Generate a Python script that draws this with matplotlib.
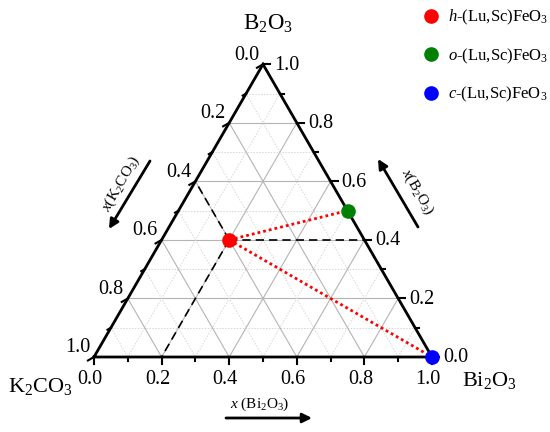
import numpy as np
import matplotlib
matplotlib.use('Agg')
import matplotlib.pyplot as plt

plt.rcParams['font.family'] = 'Liberation Serif'
plt.rcParams['mathtext.fontset'] = 'custom'
plt.rcParams['mathtext.rm'] = 'Liberation Serif'
plt.rcParams['mathtext.it'] = 'Liberation Serif:italic'

# compositions (mole fractions) of the three phases
phase_labels = [r'$h$-(Lu,Sc)FeO$_3$', r'$o$-(Lu,Sc)FeO$_3$', r'$c$-(Lu,Sc)FeO$_3$']
x_k2co3 = [0.4, 0.0, 0.0]
x_bi2o3 = [0.2, 0.5, 1.0]
x_b2o3 = [0.4, 0.5, 0.0]
phase_colors = ['#ff0000', '#008000', '#0000ff']
tick_values = [0.0, 0.2, 0.4, 0.6, 0.8, 1.0]

H = np.sqrt(3) / 2


def tern(bi, b):
    # Bi2O3 -> right vertex, B2O3 -> top vertex, K2CO3 -> left vertex
    return bi + 0.5 * b, b * H


fig = plt.figure(figsize=(5.5, 4.32), dpi=100)
ax = fig.add_axes([0, 0, 1, 1])
S = 338.0  # pixels per unit side
ax.set_xlim(-94 / S, 456 / S)
ax.set_ylim(-75 / S, 357 / S)
ax.axis('off')
px = 1 / S

# grid
for i in range(1, 10):
    v = i / 10
    if i % 2 == 0:
        kw = dict(color='#b4b4b4', lw=0.8, zorder=1)
    else:
        kw = dict(color='#d6d6d6', lw=0.7, ls=(0, (1.5, 1.5)), zorder=1)
    for p, q in [(tern(0, v), tern(1 - v, v)),
                 (tern(v, 0), tern(v, 1 - v)),
                 (tern(1 - v, 0), tern(0, 1 - v))]:
        ax.plot([p[0], q[0]], [p[1], q[1]], **kw)

# triangle frame
cx, cy = tern(np.array([0, 1, 0, 0]), np.array([0, 0, 1, 0]))
ax.plot(cx, cy, color='k', lw=2, zorder=4, solid_joinstyle='miter')

# ticks
for i in range(11):
    v = i / 10
    L = (7 if i % 2 == 0 else 4) * px
    x0, y0 = tern(v, 0)
    ax.plot([x0, x0], [y0, y0 - L], color='k', lw=1.5, zorder=4)
    x0, y0 = tern(1 - v, v)
    ax.plot([x0, x0 + L], [y0, y0], color='k', lw=1.5, zorder=4)
    x0, y0 = tern(0, 1 - v)
    ax.plot([x0, x0 - 0.866 * L], [y0, y0 - 0.5 * L], color='k', lw=1.5, zorder=4)

for v in tick_values:
    lab = f'{v:.1f}'
    ax.annotate(lab, tern(v, 0), xytext=(-4, -22), textcoords='offset pixels',
                ha='center', va='center', fontsize=14.5)
    ax.annotate(lab, tern(1 - v, v), xytext=(11, -1), textcoords='offset pixels',
                ha='left', va='center', fontsize=14.5)
    ax.annotate(lab, tern(0, 1 - v), xytext=(-4, 9), textcoords='offset pixels',
                ha='right', va='center', fontsize=14.5)

# vertex labels
ax.annotate('K$_2$CO$_3$', tern(0, 0), xytext=(-21, -35), textcoords='offset pixels',
            ha='right', va='baseline', fontsize=16)
ax.annotate('Bi$_2$O$_3$', tern(1, 0), xytext=(30, -29), textcoords='offset pixels',
            ha='left', va='baseline', fontsize=16)
ax.annotate('B$_2$O$_3$', tern(0, 1), xytext=(5, 35), textcoords='offset pixels',
            ha='center', va='baseline', fontsize=16.5)

# guide lines for the h-phase composition
bi, b = x_bi2o3[0], x_b2o3[0]
k = x_k2co3[0]
dash = dict(color='k', lw=1.2, ls=(0, (5, 3)), zorder=3)
p = tern(bi, b)
for q in [tern(1 - b, b), tern(0, 1 - k), tern(bi, 0)]:
    ax.plot([p[0], q[0]], [p[1], q[1]], **dash)

# tie lines between phases
for j in [1, 2]:
    q = tern(x_bi2o3[j], x_b2o3[j])
    ax.plot([p[0], q[0]], [p[1], q[1]], color='#ff0000', lw=2,
            ls=(0, (1, 1.1)), zorder=3)

# phase points
for j in range(3):
    x, y = tern(x_bi2o3[j], x_b2o3[j])
    ax.plot(x, y, 'o', color=phase_colors[j], markersize=9.5, zorder=6,
            clip_on=False, label=phase_labels[j])

leg = ax.legend(loc='upper left', frameon=False, fontsize=12,
                handlelength=0.9, handletextpad=0.6, labelspacing=1.15,
                borderaxespad=0, borderpad=0)
leg.set_bbox_to_anchor((423 / 550, (432 - 8) / 432), transform=fig.transFigure)

# axis titles with arrows (figure pixel coords, origin bottom-left)
arr = dict(arrowstyle='-|>', lw=2, color='k', mutation_scale=14, shrinkA=0, shrinkB=0)
ax.annotate('', xy=(312, 432 - 418), xytext=(226, 432 - 418),
            xycoords='figure pixels', textcoords='figure pixels', arrowprops=arr)
ax.annotate('', xy=(109, 432 - 229), xytext=(150, 432 - 161),
            xycoords='figure pixels', textcoords='figure pixels', arrowprops=arr)
ax.annotate('', xy=(378, 432 - 159), xytext=(418, 432 - 227),
            xycoords='figure pixels', textcoords='figure pixels', arrowprops=arr)
ax.text(260, 432 - 404, r'$x$ (Bi$_2$O$_3$)', transform=None, ha='center',
        va='center', fontsize=11)
ax.text(121, 432 - 184, r'$x$(K$_2$CO$_3$)', transform=None, ha='center',
        va='center', fontsize=11, rotation=60, rotation_mode='anchor')
ax.text(417, 432 - 192, r'$x$(B$_2$O$_3$)', transform=None, ha='center',
        va='center', fontsize=11, rotation=-60, rotation_mode='anchor')

fig.savefig('out.png', dpi=100)
